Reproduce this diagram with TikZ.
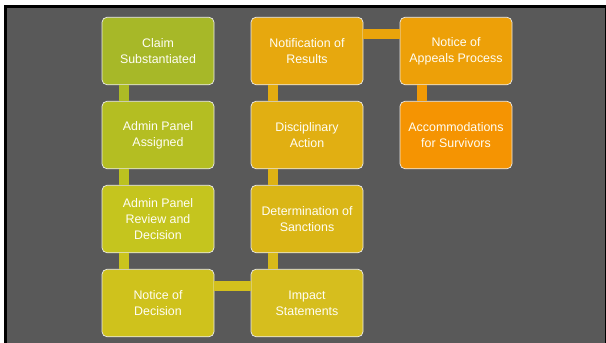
\documentclass[tikz,border=0pt]{standalone}
\usepackage{fontspec}
\setmainfont{Liberation Sans}
\usetikzlibrary{positioning}

\definecolor{slidegray}{RGB}{89,89,89}
\definecolor{stepA}{RGB}{167,184,40}
\definecolor{stepB}{RGB}{180,190,34}
\definecolor{stepC}{RGB}{197,197,30}
\definecolor{stepD}{RGB}{207,194,28}
\definecolor{stepE}{RGB}{214,190,30}
\definecolor{stepF}{RGB}{218,182,22}
\definecolor{stepG}{RGB}{225,175,18}
\definecolor{stepH}{RGB}{231,168,14}
\definecolor{stepI}{RGB}{237,160,8}
\definecolor{stepJ}{RGB}{245,148,2}

\tikzset{
  box/.style={rectangle, rounded corners=5pt, draw=white!85!gray, line width=0.7pt,
    minimum width=112pt, minimum height=67.5pt, outer sep=0pt, text=white!96!yellow,
    align=center, font=\fontsize{12.4}{16}\selectfont},
  link/.style={line width=10pt}
}

\begin{document}
\begin{tikzpicture}[x=1pt, y=-1pt, node distance=16.5pt and 37pt]
                % Slide frame
                \useasboundingbox (0,0) rectangle (606,343);
                \fill[white] (0,0) rectangle (606,343);
                \fill[black] (4,5) rectangle (606,343);
                \fill[slidegray] (7,8) rectangle (604.5,343);

                % Steps, first column
                \node[box, fill=stepA] (claim) at (158,51) {Claim\\Substantiated};
                \node[box, fill=stepB, below=of claim] (assigned) {Admin Panel\\Assigned};
                \node[box, fill=stepC, below=of assigned] (review) {Admin Panel\\Review and\\Decision};
                \node[box, fill=stepD, below=of review] (decision) {Notice of\\Decision};

                % Steps, second column
                \node[box, fill=stepE, right=of decision] (impact) {Impact\\Statements};
                \node[box, fill=stepF, above=of impact] (sanctions) {Determination of\\Sanctions};
                \node[box, fill=stepG, above=of sanctions] (action) {Disciplinary\\Action};
                \node[box, fill=stepH, above=of action] (results) {Notification of\\Results};

                % Steps, third column
                \node[box, fill=stepI, right=of results] (appeals) {Notice of\\Appeals Process};
                \node[box, fill=stepJ, below=of appeals] (survivors) {Accommodations\\for Survivors};

                % Links
                \draw[link, stepA!50!stepB] ([xshift=22pt]claim.south west) -- ([xshift=22pt]assigned.north west);
                \draw[link, stepB!50!stepC] ([xshift=22pt]assigned.south west) -- ([xshift=22pt]review.north west);
                \draw[link, stepC!50!stepD] ([xshift=22pt]review.south west) -- ([xshift=22pt]decision.north west);
                \draw[link, stepD!50!stepE] ([yshift=-17pt]decision.north east) -- ([yshift=-17pt]impact.north west);
                \draw[link, stepE!50!stepF] ([xshift=22pt]impact.north west) -- ([xshift=22pt]sanctions.south west);
                \draw[link, stepF!50!stepG] ([xshift=22pt]sanctions.north west) -- ([xshift=22pt]action.south west);
                \draw[link, stepG!50!stepH] ([xshift=22pt]action.north west) -- ([xshift=22pt]results.south west);
                \draw[link, stepH!50!stepI] ([yshift=-17pt]results.north east) -- ([yshift=-17pt]appeals.north west);
                \draw[link, stepI!50!stepJ] ([xshift=22pt]appeals.south west) -- ([xshift=22pt]survivors.north west);
\end{tikzpicture}
\end{document}
